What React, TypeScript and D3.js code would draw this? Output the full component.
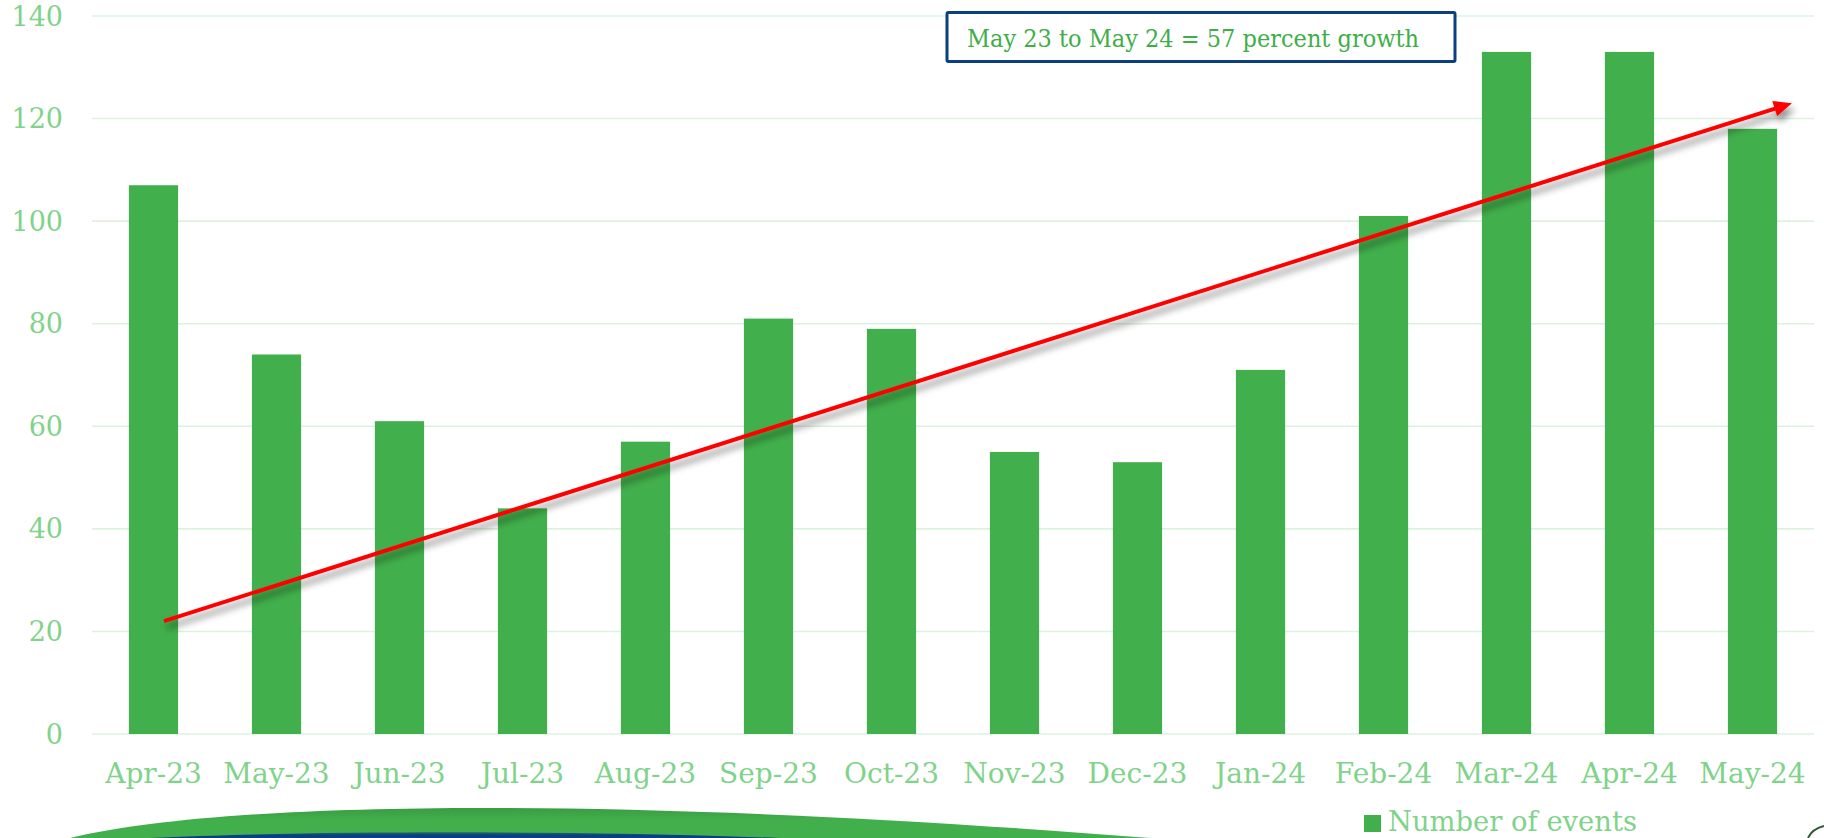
import React, { useEffect } from "react";
import * as d3 from "d3";

const categories = ["Apr-23","May-23","Jun-23","Jul-23","Aug-23","Sep-23","Oct-23","Nov-23","Dec-23","Jan-24","Feb-24","Mar-24","Apr-24","May-24"];
const events = [107, 74, 61, 44, 57, 81, 79, 55, 53, 71, 101, 133, 133, 118];
const yTicks = [0, 20, 40, 60, 80, 100, 120, 140];
// trend arrow endpoints: position in category steps, value
const trendIndex = [0.585, 13.82];
const trendValue = [22, 123];
const annotation = "May 23 to May 24 = 57 percent growth";
const legendLabel = "Number of events";

const W = 1824, H = 838;
const FONT = "'DejaVu Serif', Georgia, serif";
const LABEL = "#7fd38a";
const BAR = "#41af4b";
const GRID = "#dcf2df";

export default function App() {
  useEffect(() => {
    document.body.style.margin = "0";
  }, []);

  const x = d3.scaleBand<string>().domain(categories).range([92, 1814]).paddingInner(0.6).paddingOuter(0.3);
  const y = d3.scaleLinear().domain([0, 140]).range([734, 16]);
  const xi = d3.scaleLinear().domain([0, categories.length]).range([92, 1814]);

  const x0 = xi(trendIndex[0]), y0 = y(trendValue[0]);
  const x1 = xi(trendIndex[1]), y1 = y(trendValue[1]);
  const ang = Math.atan2(y1 - y0, x1 - x0);
  const headLen = 18, headW = 8;
  const bx = x1 - headLen * Math.cos(ang), by = y1 - headLen * Math.sin(ang);
  const px = -Math.sin(ang), py = Math.cos(ang);
  const head = [
    [x1, y1],
    [bx + px * headW, by + py * headW],
    [bx - px * headW, by - py * headW],
  ].map(p => p.join(",")).join(" ");

  return (
    <svg width={W} height={H} style={{ display: "block" }} fontFamily={FONT}>
      <defs>
        <filter id="shadow" x="-10%" y="-50%" width="120%" height="200%">
          <feDropShadow dx="3" dy="6" stdDeviation="3.5" floodColor="#000" floodOpacity="0.45" />
        </filter>
        <linearGradient id="swGreen" x1="0" y1="0" x2="0" y2="1">
          <stop offset="0" stopColor="#3a9c43" />
          <stop offset="0.4" stopColor="#41af4b" />
          <stop offset="1" stopColor="#41af4b" />
        </linearGradient>
        <linearGradient id="swBlue" x1="0" y1="0" x2="0" y2="1">
          <stop offset="0" stopColor="#1f6a6a" />
          <stop offset="0.5" stopColor="#0b3f7f" />
          <stop offset="1" stopColor="#0b3f7f" />
        </linearGradient>
      </defs>
      <rect width={W} height={H} fill="#fff" />

      {yTicks.map(t => (
        <g key={t}>
          <line x1={92} x2={1814} y1={y(t)} y2={y(t)} stroke={GRID} strokeWidth={1.6} />
          <text x={63} y={y(t)} textAnchor="end" dominantBaseline="central" fontSize={27} fill={LABEL}>{t}</text>
        </g>
      ))}

      {categories.map((c, i) => (
        <rect key={c} x={x(c)} y={y(events[i])} width={x.bandwidth()} height={y(0) - y(events[i])} fill={BAR} />
      ))}

      {categories.map(c => (
        <text key={c} x={(x(c) as number) + x.bandwidth() / 2} y={783} textAnchor="middle" fontSize={28} fill={LABEL}>{c}</text>
      ))}

      <g filter="url(#shadow)">
        <line x1={x0} y1={y0} x2={bx + Math.cos(ang) * 2} y2={by + Math.sin(ang) * 2} stroke="#ff0000" strokeWidth={4} />
        <polygon points={head} fill="#ff0000" />
      </g>

      <rect x={947} y={12.5} width={508} height={49} fill="#fff" stroke="#0b3f7f" strokeWidth={3} rx={1.5} />
      <text x={967} y={46.5} fontSize={23.5} fill="#3fae49" textLength={452} lengthAdjust="spacingAndGlyphs">{annotation}</text>

      <path d="M70,838 C230,800 620,796 1150,838 Z" fill="url(#swGreen)" />
      <path d="M150,838 C300,831 560,830 780,838 Z" fill="url(#swBlue)" />
      <path d="M1808,838 Q1812,829 1824,826" fill="none" stroke="#2f5a35" strokeWidth={2} />

      <rect x={1364} y={815} width={17} height={17} fill={BAR} />
      <text x={1388} y={831} fontSize={28} fill={LABEL} textLength={249} lengthAdjust="spacingAndGlyphs">{legendLabel}</text>
    </svg>
  );
}
